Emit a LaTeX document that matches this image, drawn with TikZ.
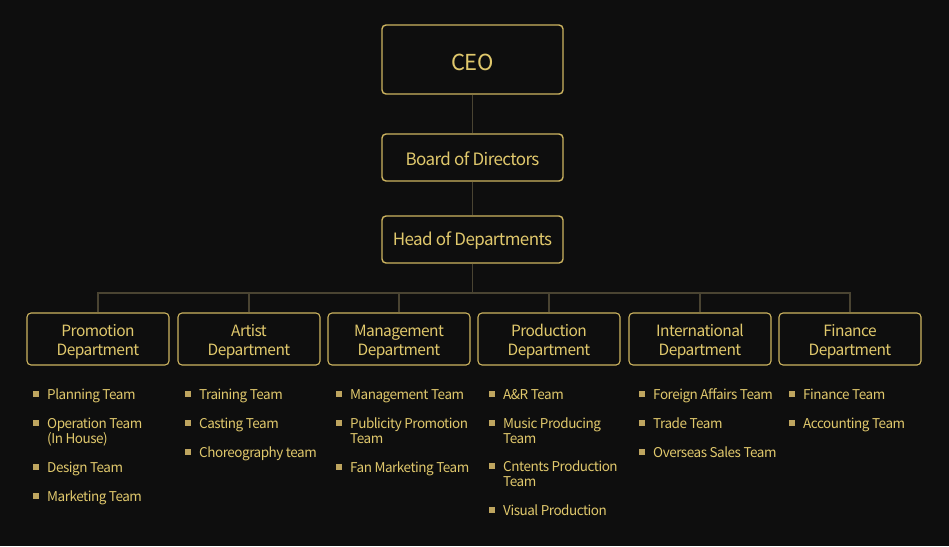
\documentclass[tikz,border=0pt]{standalone}
\usepackage{fontspec}
\setmainfont{Noto Sans CJK KR}[LetterSpace=-3.5]
\definecolor{bg}{RGB}{14,14,14}
\definecolor{gold}{RGB}{224,200,108}
\definecolor{goldline}{RGB}{205,180,96}
\definecolor{conn}{RGB}{74,68,50}
\definecolor{bul}{RGB}{190,165,95}
\tikzset{
  topbox/.style={draw=goldline, line width=1.4pt, rounded corners=4pt, fill=bg, text=gold,
    minimum width=181pt, inner sep=0pt},
  deptbox/.style={draw=goldline, line width=1.1pt, rounded corners=4pt, fill=bg, text=gold,
    minimum width=142pt, minimum height=52pt, align=center, inner sep=0pt,
    font=\fontsize{15.5}{19}\selectfont},
  conn/.style={draw=conn, line width=1.6pt},
  item/.style={text=gold, inner sep=0pt, anchor=base west, font=\fontsize{13.5}{15}\selectfont},
  bullet/.style={fill=bul, minimum size=5.5pt, inner sep=0pt},
}
\newcommand{\teamitem}[4]{%
  \node[item] (#1) at (#2,#3+5) {#4};
  \node[bullet] (#1bul) at (#2-11,#3) {};
}
\newcommand{\lowered}[2]{\raisebox{0pt}[\dimexpr\height+#1\relax][\depth]{#2}}
\newcommand{\dtext}[2]{\lowered{6pt}{\begin{tabular}{@{}c@{}}#1\\#2\end{tabular}}}
\begin{document}
\begin{tikzpicture}[x=1pt,y=-1pt]
\useasboundingbox[fill=bg] (0,0) rectangle (949,546);

\node[topbox, minimum height=69pt, font=\fontsize{22}{24}\selectfont] (ceo) at (472.5,59.5) {\lowered{5pt}{CEO}};
\node[topbox, minimum height=47pt, font=\fontsize{17}{20}\selectfont] (board) at (472.5,157.5) {\lowered{2pt}{Board of Directors}};
\node[topbox, minimum height=47pt, font=\fontsize{17}{20}\selectfont] (head) at (472.5,239.5) {\lowered{2pt}{Head of Departments}};

\node[deptbox] (d1) at (98,339) {\dtext{Promotion}{Department}};
\node[deptbox] (d2) at (249,339) {\dtext{Artist}{Department}};
\node[deptbox] (d3) at (399,339) {\dtext{Management}{Department}};
\node[deptbox] (d4) at (549,339) {\dtext{Production}{Department}};
\node[deptbox] (d5) at (700,339) {\dtext{International}{Department}};
\node[deptbox] (d6) at (850,339) {\dtext{Finance}{Department}};

\coordinate (bus) at (472.5,293);
\draw[conn] (ceo.south) -- (board.north);
\draw[conn] (board.south) -- (head.north);
\draw[conn] (head.south) -- (bus);
\draw[conn] (d1.north) |- (bus);
\draw[conn] (d6.north) |- (bus);
\draw[conn] (d2.north) -- (d2.north |- bus);
\draw[conn] (d3.north) -- (d3.north |- bus);
\draw[conn] (d4.north) -- (d4.north |- bus);
\draw[conn] (d5.north) -- (d5.north |- bus);

% Promotion
\teamitem{a1}{47}{394}{Planning Team}
\teamitem{a2}{47}{423}{Operation Team}
\node[item] (a2b) at (47,438+5) {(In House)};
\teamitem{a3}{47}{467}{Design Team}
\teamitem{a4}{47}{496}{Marketing Team}
% Artist
\teamitem{b1}{199}{394}{Training Team}
\teamitem{b2}{199}{423}{Casting Team}
\teamitem{b3}{199}{452}{Choreography team}
% Management
\teamitem{c1}{350}{394}{Management Team}
\teamitem{c2}{350}{423}{Publicity Promotion}
\node[item] (c2b) at (350,438+5) {Team};
\teamitem{c3}{350}{467}{Fan Marketing Team}
% Production
\teamitem{e1}{503}{394}{A\&R Team}
\teamitem{e2}{503}{423}{Music Producing}
\node[item] (e2b) at (503,438+5) {Team};
\teamitem{e3}{503}{466}{Cntents Production}
\node[item] (e3b) at (503,481+5) {Team};
\teamitem{e4}{503}{510}{Visual Production}
% International
\teamitem{f1}{653}{394}{Foreign Affairs Team}
\teamitem{f2}{653}{423}{Trade Team}
\teamitem{f3}{653}{452}{Overseas Sales Team}
% Finance
\teamitem{g1}{803}{394}{Finance Team}
\teamitem{g2}{803}{423}{Accounting Team}
\end{tikzpicture}
\end{document}
